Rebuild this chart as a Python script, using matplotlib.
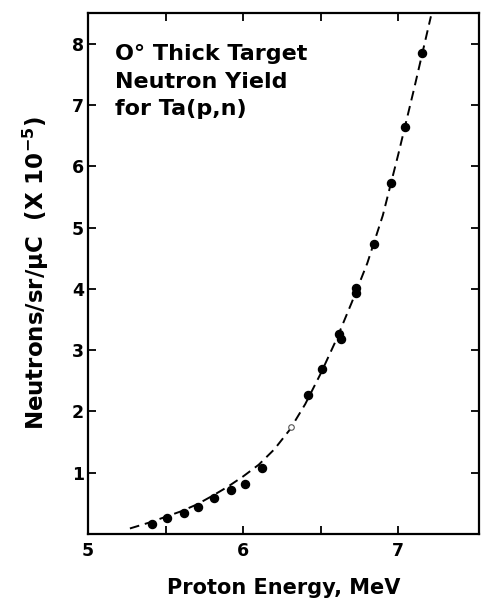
import numpy as np
import matplotlib
matplotlib.use("Agg")
import matplotlib.pyplot as plt

plt.rcParams['font.family'] = ['DejaVu Sans']
plt.rcParams['font.weight'] = 'bold'
plt.rcParams['mathtext.fontset'] = 'custom'
plt.rcParams['mathtext.rm'] = 'DejaVu Sans:bold'
plt.rcParams['mathtext.bf'] = 'DejaVu Sans:bold'
plt.rcParams['mathtext.default'] = 'bf'

# measured yield points (x 10^-5 neutrons/sr/uC)
energy = [5.41, 5.51, 5.62, 5.71, 5.81, 5.92, 6.01, 6.12, 6.42, 6.51,
          6.62, 6.63, 6.73, 6.73, 6.84, 6.95, 7.04, 7.15]
yield_ = [0.17, 0.26, 0.35, 0.44, 0.59, 0.71, 0.82, 1.08, 2.27, 2.70,
          3.27, 3.19, 4.01, 3.93, 4.73, 5.73, 6.65, 7.85]
# faint (open) point
energy_open = [6.31]
yield_open = [1.74]

# dashed curve
curve_e = [5.27, 5.4, 5.5, 5.6, 5.7, 5.8, 5.9, 6.0, 6.1, 6.2, 6.3, 6.4,
           6.5, 6.6, 6.7, 6.8, 6.9, 7.0, 7.1, 7.21]
curve_y = [0.09, 0.19, 0.28, 0.37, 0.48, 0.62, 0.77, 0.94, 1.13, 1.38,
           1.70, 2.12, 2.62, 3.17, 3.78, 4.42, 5.20, 6.20, 7.25, 8.45]

fig = plt.figure(figsize=(4.82, 6.02), dpi=100)
ax = fig.add_axes([0.1826, 0.113, 0.8112, 0.865])

ax.plot(curve_e, curve_y, color='black', lw=1.4, dashes=(5, 3))
ax.plot(energy, yield_, 'o', color='black', ms=5.8)
ax.plot(energy_open, yield_open, 'o', mfc='white', mec='#555555', mew=0.8, ms=4)

ax.set_xlim(5, 7.52)
ax.set_ylim(0, 8.5)
ax.set_xticks([5, 5.5, 6, 6.5, 7])
ax.set_xticklabels(['5', '', '6', '', '7'])
ax.set_yticks([1, 2, 3, 4, 5, 6, 7, 8])
ax.tick_params(direction='in', length=6, width=1.3, top=True, right=True,
               labelsize=12.5, pad=6)
ax.tick_params(axis='y', pad=3)
for sp in ax.spines.values():
    sp.set_linewidth(1.6)

ax.set_xlabel('Proton Energy, MeV', fontsize=15, fontweight='bold', labelpad=13)
ax.set_ylabel('Neutrons/sr/μC  (X 10$^{-5}$)', fontsize=16.5, fontweight='bold')
ax.yaxis.set_label_coords(-0.095, 0.5)

ax.text(0.068, 0.94, 'O° Thick Target\nNeutron Yield\nfor Ta(p,n)',
        transform=ax.transAxes, fontsize=16, fontweight='bold',
        va='top', ha='left', linespacing=1.45)

fig.savefig('out.png', dpi=100)
